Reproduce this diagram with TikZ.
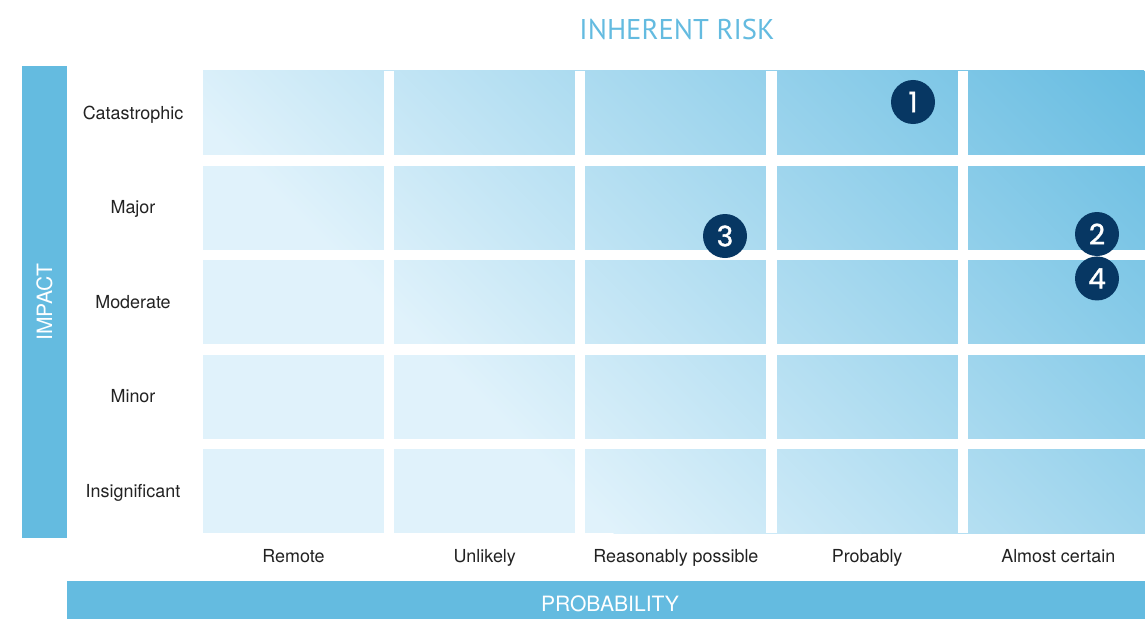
\documentclass[tikz,border=0pt]{standalone}
\usepackage{fontspec}
\setmainfont{TeX Gyre Heros}
\newfontfamily\titlefont{PT Sans}
\newfontfamily\badgefont[FakeBold=1.2]{Poppins}
\usepackage{tikz}
\usetikzlibrary{positioning}
\definecolor{barblue}{HTML}{64BBE0}
\definecolor{celllo}{HTML}{E0F2FB}
\definecolor{cellhi}{HTML}{66BCE1}
\definecolor{badgenavy}{HTML}{073763}
\definecolor{labelgray}{HTML}{222222}

\begin{document}
\begin{tikzpicture}[x=0.03cm,y=-0.03cm,
    gridlabel/.style={text=labelgray,inner sep=0pt,anchor=base,font=\fontsize{15.3}{18}\selectfont},
    axislabel/.style={text=white,inner sep=0pt,font=\fontsize{18}{21}\selectfont},
    badge/.style={circle,fill=badgenavy,text=white,inner sep=0pt,minimum size=1.32cm,
      font=\badgefont\fontsize{24}{28}\selectfont}]
    \useasboundingbox (0,0) rectangle (1145,619);
    \begin{scope}
      \clip (203,71) rectangle (1145,533);
      \fill[celllo] (203,71) rectangle (1145,533);
      \begin{scope}[transform canvas={rotate=45}]
        \shade[overlay,left color=celllo,right color=cellhi] (56.6,-1600) rectangle (759.4,1600);
      \end{scope}
    \end{scope}
    \foreach \i in {1,...,4} {
      \fill[white] ({384+191.2*(\i-1)},71) rectangle ++(10.2,462);
      \fill[white] (203,{155+94.5*(\i-1)}) rectangle ++(942,10.5);
    }
    \fill[barblue] (22,66) rectangle (67,538);
    \fill[barblue] (67,581) rectangle (1145,619);
    \node[text=barblue,font=\titlefont\fontsize{24.4}{28}\selectfont] (title) at (677,29) {INHERENT RISK};
    \node[axislabel,rotate=90] (impact) at (44.5,302) {IMPACT};
    \node[axislabel] (probability) at (610,604) {PROBABILITY};
    \foreach \lab [count=\j] in {Catastrophic,Major,Moderate,Minor,Insignificant}
      \node[gridlabel] (row\j) at (133,{119+94.5*(\j-1)}) {\lab};
    \foreach \lab [count=\i] in {Remote,Unlikely,Reasonably possible,Probably,Almost certain}
      \node[gridlabel] (col\i) at ({293.5+191.2*(\i-1)},562) {\lab};
    \node[badge] (b1) at (913,102) {1};
    \node[badge] (b3) at (725,236) {3};
    \node[badge] (b2) at (1097,234) {2};
    \node[badge,below=0pt of b2] (b4) {4};
\end{tikzpicture}
\end{document}
